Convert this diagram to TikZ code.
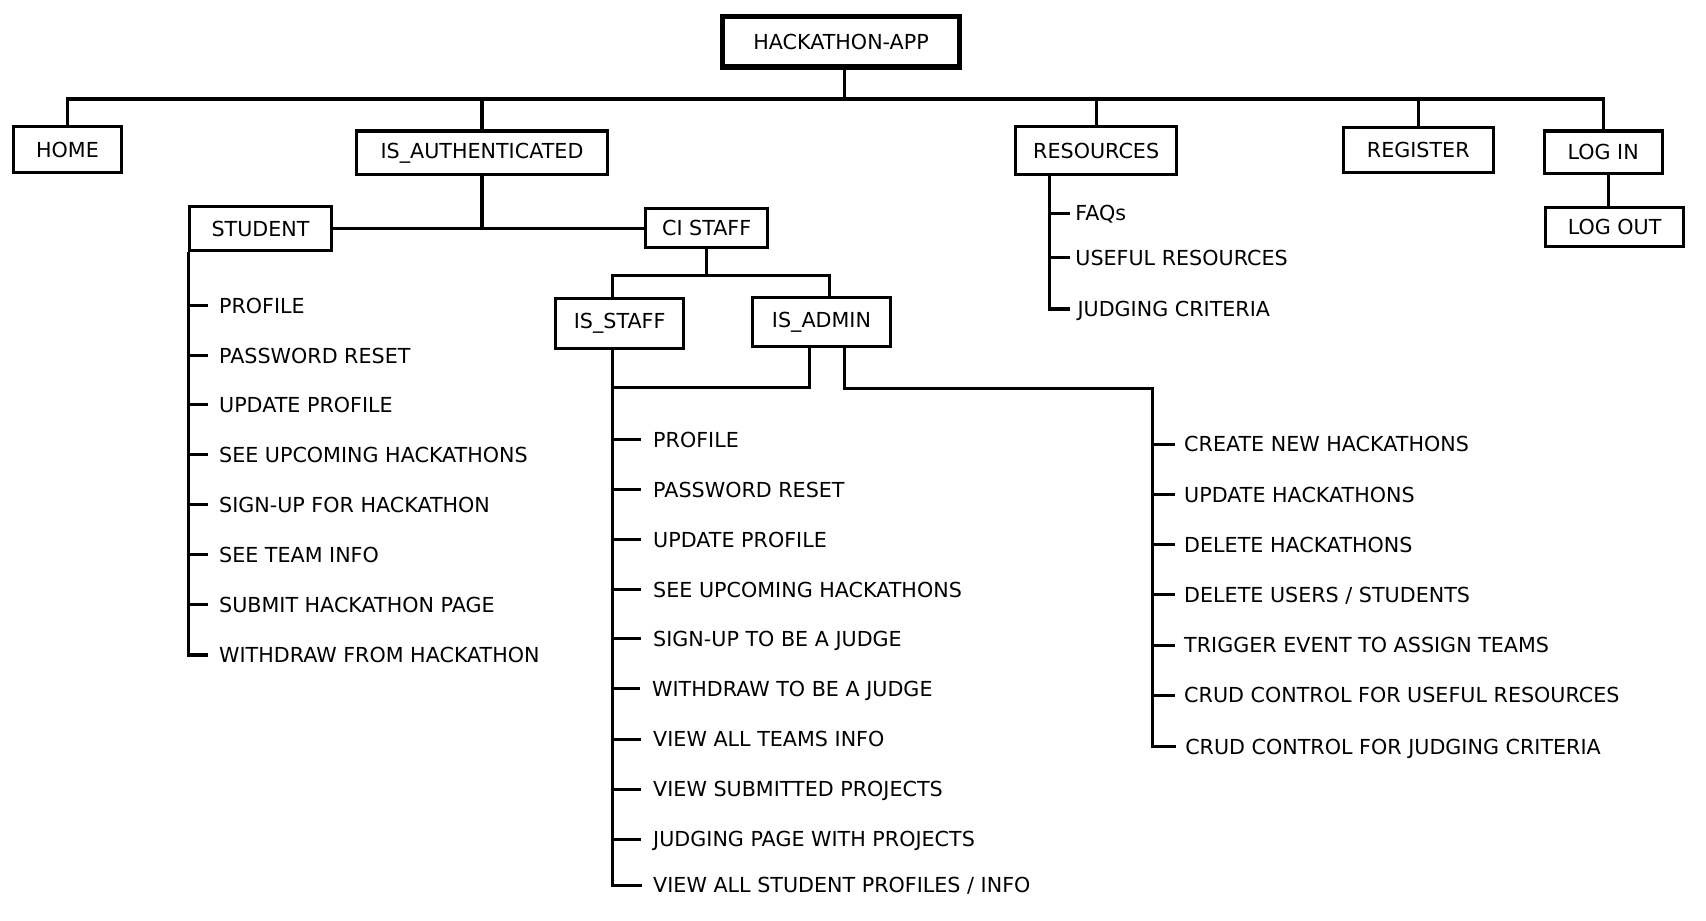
\documentclass[tikz,border=0pt]{standalone}
\usepackage{fontspec}
\setmainfont{DejaVu Sans}
\begin{document}
\begin{tikzpicture}[x=0.5pt,y=-0.5pt,
  line width=1.4pt,
  every node/.style={font=\fontsize{9.5pt}{11pt}\selectfont},
  bx/.style 2 args={draw, line width=1.4pt, inner sep=0pt,
    minimum width=#1*0.5pt-1.4pt, minimum height=#2*0.5pt-1.4pt},
  itm/.style={anchor=west, inner sep=0pt, text height=6.9pt, text depth=0pt},
]
\useasboundingbox (0,0) rectangle (1568,846);
% boxes
\node[bx={220}{49}, line width=2.4pt] (root) at (773,38.5) {HACKATHON-APP};
\node[bx={102}{45}] (home) at (62,137.5) {HOME};
\node[bx={234}{43}] (auth) at (443,140.5) {IS\_AUTHENTICATED};
\node[bx={151}{47}] (res) at (1007.5,138.5) {RESOURCES};
\node[bx={141}{44}] (reg) at (1303.5,138) {REGISTER};
\node[bx={111}{42}] (login) at (1473.5,140) {LOG IN};
\node[bx={130}{39}] (logout) at (1484,208.5) {LOG OUT};
\node[bx={133}{44}] (student) at (239.5,210) {STUDENT};
\node[bx={115}{39}] (cistaff) at (649.5,209.5) {CI STAFF};
\node[bx={121}{49}] (isstaff) at (569.5,297.5) {IS\_STAFF};
\node[bx={130}{48}] (isadmin) at (755,296) {IS\_ADMIN};
% helper coordinates
\coordinate (bus) at (776,91);
\coordinate (xs) at (563,0);
\coordinate (xad) at (762,0);
\coordinate (xlo) at (1478,0);
\coordinate (xal) at (744,356);
\coordinate (xar) at (776,357);
\coordinate (xa) at (1059,357);
\coordinate (xr) at (965,0);
% student items
\node[itm] (s1) at (200,281) {PROFILE};
\node[itm] (s2) at (200,327) {PASSWORD RESET};
\node[itm] (s3) at (200,372) {UPDATE PROFILE};
\node[itm] (s4) at (200,418) {SEE UPCOMING HACKATHONS};
\node[itm] (s5) at (200,464) {SIGN-UP FOR HACKATHON};
\node[itm] (s6) at (200,510) {SEE TEAM INFO};
\node[itm] (s7) at (200,556) {SUBMIT HACKATHON PAGE};
\node[itm] (s8) at (200,602) {WITHDRAW FROM HACKATHON};
% staff items
\node[itm] (t1) at (599,404) {PROFILE};
\node[itm] (t2) at (599,450) {PASSWORD RESET};
\node[itm] (t3) at (599,496) {UPDATE PROFILE};
\node[itm] (t4) at (599,542) {SEE UPCOMING HACKATHONS};
\node[itm] (t5) at (599,587) {SIGN-UP TO BE A JUDGE};
\node[itm] (t6) at (598,633) {WITHDRAW TO BE A JUDGE};
\node[itm] (t7) at (599,679.5) {VIEW ALL TEAMS INFO};
\node[itm] (t8) at (599,725.5) {VIEW SUBMITTED PROJECTS};
\node[itm] (t9) at (599,771.5) {JUDGING PAGE WITH PROJECTS};
\node[itm] (t10) at (599,813.5) {VIEW ALL STUDENT PROFILES / INFO};
% admin items
\node[itm] (a1) at (1087,408.5) {CREATE NEW HACKATHONS};
\node[itm] (a2) at (1087,454.5) {UPDATE HACKATHONS};
\node[itm] (a3) at (1087,500.5) {DELETE HACKATHONS};
\node[itm] (a4) at (1087,546.5) {DELETE USERS / STUDENTS};
\node[itm] (a5) at (1087,593) {TRIGGER EVENT TO ASSIGN TEAMS};
\node[itm] (a6) at (1087,639) {CRUD CONTROL FOR USEFUL RESOURCES};
\node[itm] (a7) at (1088,686.5) {CRUD CONTROL FOR JUDGING CRITERIA};
% resources items
\node[itm] (r1) at (987,196) {FAQs};
\node[itm] (r2) at (987,237) {USEFUL RESOURCES};
\node[itm] (r3) at (989,284) {JUDGING CRITERIA};
% top level connectors
\draw (root.south -| bus) -- (bus);
\draw (home.north) |- (bus -| login.north) -- (login.north);
\draw (auth.north) -- (auth.north |- bus);
\draw (res.north) -- (res.north |- bus);
\draw (reg.north) -- (reg.north |- bus);
\draw (xlo |- login.south) -- (xlo |- logout.north);
% authenticated
\draw (auth.south) -- (auth.south |- student.east);
\draw (student.east) -- (cistaff.west |- student.east);
\draw (cistaff.south) -- ++(0,24) coordinate (b2);
\draw (xs |- isstaff.north) |- (xad |- b2) -- (xad |- isadmin.north);
% student tree
\draw (student.south west) |- ([xshift=-4.5pt]s8.west);
\foreach \i in {1,...,7}{\draw (student.south west |- s\i.west) -- ([xshift=-4.5pt]s\i.west);}
% staff tree
\draw (xs |- isstaff.south) |- ([xshift=-4.5pt]t10.west);
\foreach \i in {1,...,9}{\draw (xs |- t\i.west) -- ([xshift=-5pt]t\i.west);}
\draw (xal |- isadmin.south) -- (xal) -- (xs |- xal);
% admin tree
\draw (xar |- isadmin.south) |- (xa) |- ([xshift=-3.5pt]a7.west);
\foreach \i in {1,...,6}{\draw (xa |- a\i.west) -- ([xshift=-3.5pt]a\i.west);}
% resources tree
\draw (xr |- res.south) |- ([xshift=-3pt]r3.west);
\foreach \i in {1,2}{\draw (xr |- r\i.west) -- ([xshift=-2pt]r\i.west);}
\end{tikzpicture}
\end{document}
